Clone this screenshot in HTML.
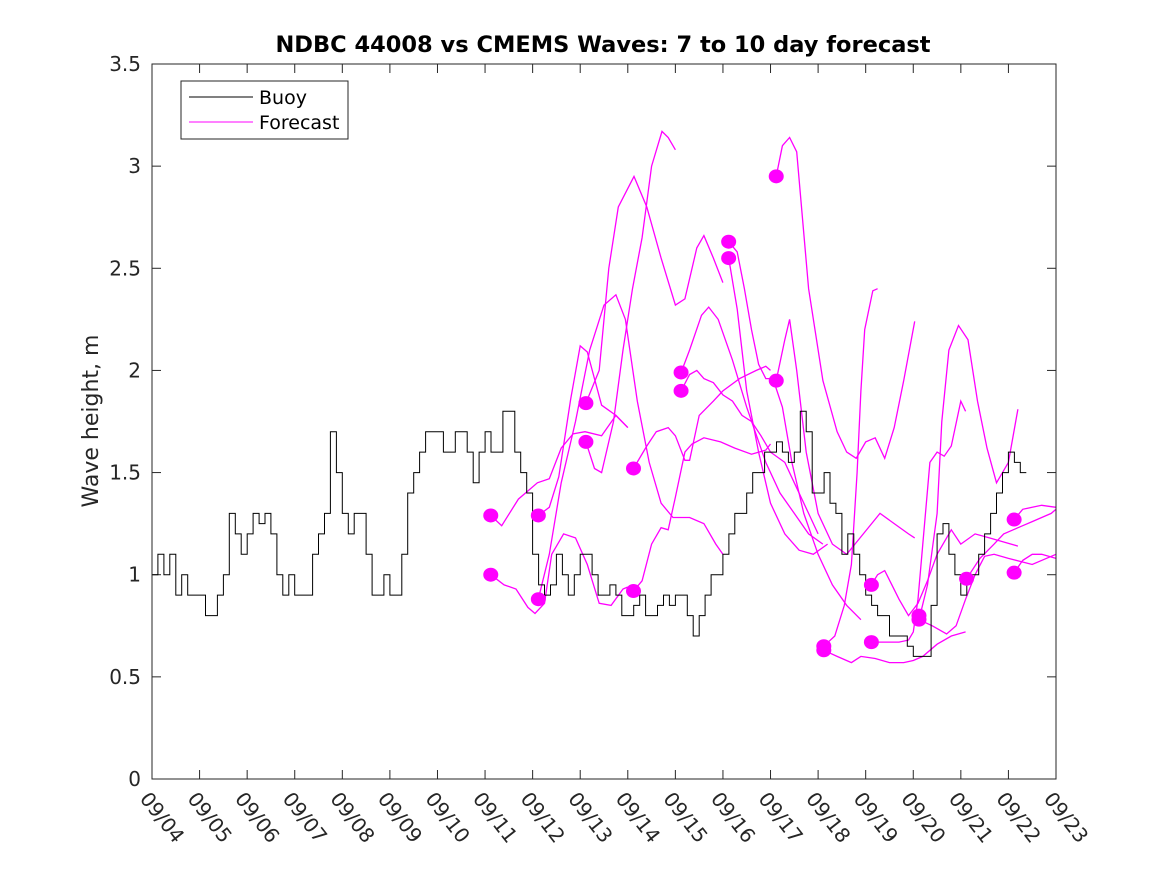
<!DOCTYPE html>
<html><head><meta charset="utf-8"><style>
html,body{margin:0;padding:0;background:#fff;}
svg{display:block;font-family:"DejaVu Sans","Liberation Sans",sans-serif;}
</style></head><body>
<svg id="chart" width="1167" height="875" viewBox="0 0 1167 875">
<rect x="0" y="0" width="1167" height="875" fill="#fff"/>
<text x="603" y="52" text-anchor="middle" font-size="22.5" font-weight="bold" fill="#000">NDBC 44008 vs CMEMS Waves: 7 to 10 day forecast</text>
<text transform="translate(98,421) rotate(-90)" text-anchor="middle" font-size="22" fill="#262626">Wave height, m</text>
<g id="plot"></g>
<rect x="152" y="64" width="904" height="715" fill="none" stroke="#262626" stroke-width="1"/>
<g>
<rect x="181" y="81" width="167" height="58" fill="#fff" stroke="#262626" stroke-width="1"/>
<line x1="189" y1="97" x2="253" y2="97" stroke="#000" stroke-width="1"/>
<text x="259" y="104" font-size="19" fill="#000">Buoy</text>
<line x1="189" y1="122" x2="253" y2="122" stroke="#ff00ff" stroke-width="1"/>
<text x="259" y="129" font-size="19" fill="#000">Forecast</text>
</g>
</svg>
<script>
const xLabels = ["09/04","09/05","09/06","09/07","09/08","09/09","09/10","09/11","09/12","09/13","09/14","09/15","09/16","09/17","09/18","09/19","09/20","09/21","09/22","09/23"];
const yTicks = [0,0.5,1,1.5,2,2.5,3,3.5];
const yTickLabels = ["0","0.5","1","1.5","2","2.5","3","3.5"];
// buoy: values every 3 hours starting 09/04 00:00
const buoyStep = 0.125;
const buoyValues = [
1.0,1.1,1.0,1.1,0.9,1.0,0.9,0.9,
0.9,0.8,0.8,0.9,1.0,1.3,1.2,1.1,
1.2,1.3,1.25,1.3,1.2,1.0,0.9,1.0,
0.9,0.9,0.9,1.1,1.2,1.3,1.7,1.5,
1.3,1.2,1.3,1.3,1.1,0.9,0.9,1.0,
0.9,0.9,1.1,1.4,1.5,1.6,1.7,1.7,
1.7,1.6,1.6,1.7,1.7,1.6,1.45,1.6,
1.7,1.6,1.6,1.8,1.8,1.6,1.5,1.4,
1.1,0.95,0.9,0.95,1.1,1.0,0.9,1.0,
1.1,1.1,1.0,0.9,0.9,0.95,0.9,0.8,
0.8,0.85,0.9,0.8,0.8,0.85,0.9,0.85,
0.9,0.9,0.8,0.7,0.8,0.9,1.0,1.0,
1.1,1.2,1.3,1.3,1.4,1.5,1.5,1.6,
1.6,1.65,1.6,1.55,1.6,1.8,1.7,1.4,
1.4,1.5,1.35,1.3,1.1,1.2,1.1,1.0,
0.9,0.85,0.8,0.8,0.7,0.7,0.7,0.65,
0.6,0.6,0.6,0.85,1.2,1.25,1.1,1.0,
0.9,1.0,1.0,1.1,1.2,1.3,1.4,1.5,
1.6,1.55,1.5];
// forecast start markers (day since 09/04, value)
const dotDays = [7.12,7.12,8.12,8.12,9.12,9.12,10.12,10.12,11.12,11.12,12.12,12.12,13.12,13.12,14.12,14.12,15.12,15.12,16.12,16.12,17.12,18.12,18.12];
const dotValues = [1.29,1.00,1.29,0.88,1.84,1.65,1.52,0.92,1.99,1.90,2.63,2.55,2.95,1.95,0.65,0.63,0.95,0.67,0.80,0.78,0.98,1.27,1.01];
// forecast curves: day positions and values
const fcDays = [
[7.12,7.35,7.7,8.1,8.35,8.6,8.85,9.1,9.45,9.75,10.0],
[7.12,7.4,7.65,7.9,8.05,8.25,8.4,8.65,8.9,9.15,9.4,9.65,9.9,10.0],
[8.12,8.35,8.55,8.8,9.0,9.15,9.45,9.75,10.0],
[8.12,8.35,8.6,8.9,9.2,9.5,9.75,9.95,10.2,10.45,10.7,10.95,11.3,11.6,11.85,12.0],
[9.12,9.4,9.6,9.8,10.13,10.4,10.7,11.0,11.2,11.45,11.6,11.8,12.0],
[9.12,9.3,9.45,9.7,9.9,10.1,10.3,10.5,10.72,10.85,11.0],
[10.12,10.4,10.6,10.85,11.0,11.2,11.3,11.5,11.8,12.0,12.35,12.7,12.9,13.0],
[10.12,10.3,10.5,10.7,10.85,11.0,11.2,11.35,11.6,11.95,12.25,12.6,12.9,13.0],
[11.12,11.3,11.55,11.7,11.9,12.2,12.5,12.9,13.2,13.5,13.8,14.1],
[11.12,11.3,11.45,11.6,11.8,12.0,12.2,12.4,12.6,12.8,13.0,13.3,13.5,13.8,14.0],
[12.12,12.3,12.45,12.6,12.75,12.9,13.05,13.25,13.45,13.7,14.0,14.3,14.6,14.9],
[12.12,12.3,12.5,12.75,13.0,13.3,13.6,13.9,14.2],
[13.12,13.25,13.4,13.55,13.8,14.1,14.4,14.6,14.8,15.0,15.2,15.4,15.6,15.8,16.03],
[13.12,13.3,13.4,13.55,13.75,14.0,14.3,14.6,14.95,15.3,15.6,15.9,16.03],
[14.12,14.35,14.55,14.7,14.82,14.9,14.98,15.05,15.15,15.25],
[14.12,14.4,14.7,14.9,15.2,15.5,15.8,16.0,16.2,16.5,16.8,17.1],
[15.12,15.25,15.4,15.55,15.7,15.9,16.1,16.3,16.5,16.8,17.0,17.3,17.6,17.9,18.2],
[15.12,15.4,15.7,15.9,16.0,16.1,16.2,16.35,16.5,16.65,16.8,17.0,17.1],
[16.12,16.4,16.7,16.9,17.1,17.3,17.5,17.7,18.0,18.5,19.0],
[16.12,16.3,16.5,16.6,16.75,16.95,17.15,17.35,17.55,17.75,18.0,18.2],
[17.12,17.4,17.7,17.9,18.1,18.3,18.5,18.7,18.9,19.0],
[18.12,18.3,18.5,18.7,19.0],
[18.12,18.3,18.5,18.7,19.0]
];
const fcValues = [
[1.29,1.24,1.37,1.45,1.47,1.62,1.69,1.70,1.68,1.78,1.72],
[1.0,0.95,0.93,0.84,0.81,0.86,1.1,1.2,1.18,1.05,0.86,0.85,0.93,0.94],
[1.29,1.33,1.48,1.86,2.12,2.09,1.83,1.78,1.72],
[0.88,1.1,1.45,1.75,2.1,2.32,2.37,2.25,1.85,1.55,1.35,1.28,1.28,1.25,1.15,1.1],
[1.84,2.0,2.5,2.8,2.95,2.8,2.55,2.32,2.35,2.6,2.66,2.55,2.43],
[1.65,1.52,1.5,1.75,2.1,2.4,2.65,3.0,3.17,3.14,3.08],
[1.52,1.63,1.70,1.72,1.68,1.56,1.56,1.78,1.85,1.9,1.96,2.0,2.02,2.0],
[0.92,0.97,1.15,1.23,1.22,1.38,1.6,1.64,1.67,1.65,1.62,1.59,1.61,1.64],
[1.99,2.1,2.27,2.31,2.25,2.05,1.82,1.55,1.4,1.3,1.2,1.15],
[1.9,1.98,2.0,1.96,1.94,1.88,1.85,1.78,1.75,1.68,1.6,1.55,1.45,1.3,1.2],
[2.63,2.58,2.4,2.2,2.03,1.96,1.96,1.82,1.55,1.3,1.1,0.95,0.85,0.78],
[2.55,2.3,1.9,1.6,1.35,1.2,1.12,1.1,1.15],
[2.95,3.1,3.14,3.07,2.4,1.95,1.7,1.6,1.57,1.65,1.67,1.57,1.72,1.95,2.24],
[1.95,2.15,2.25,2.0,1.6,1.3,1.15,1.1,1.2,1.3,1.25,1.2,1.18],
[0.65,0.7,0.85,1.05,1.5,1.9,2.2,2.28,2.39,2.4],
[0.63,0.6,0.57,0.6,0.59,0.57,0.57,0.58,0.6,0.66,0.7,0.72],
[0.95,1.0,1.02,0.95,0.88,0.8,0.86,0.97,1.1,1.22,1.15,1.2,1.18,1.16,1.14],
[0.67,0.67,0.67,0.68,0.72,0.88,1.15,1.55,1.6,1.58,1.63,1.85,1.8],
[0.78,0.75,0.71,0.75,0.88,1.0,1.09,1.1,1.08,1.05,1.1],
[0.78,0.95,1.3,1.75,2.1,2.22,2.15,1.85,1.62,1.45,1.55,1.81],
[0.98,1.08,1.15,1.2,1.22,1.24,1.26,1.28,1.3,1.32],
[1.27,1.32,1.33,1.34,1.33],
[1.01,1.07,1.1,1.1,1.08]
];

const NS = "http://www.w3.org/2000/svg";
const L = 152, R = 1056, T = 64, B = 779;
const nDays = 19, yMax = 3.5;
function xs(d){ return L + d * (R - L) / nDays; }
function ys(v){ return B - v * (B - T) / yMax; }
const plot = document.getElementById('plot');
function mk(tag, attrs){ const e = document.createElementNS(NS, tag); for (const k in attrs) e.setAttribute(k, attrs[k]); return e; }

yTicks.forEach((v, i) => {
  const y = ys(v);
  const t1 = mk('line', {x1:L, y1:y, x2:L+9, y2:y, stroke:'#262626'});
  
  
  plot.appendChild(t1);
  const t2 = mk('line', {x1:R, y1:y, x2:R-9, y2:y, stroke:'#262626'});
  
  
  plot.appendChild(t2);
  const tx = mk('text', {x:141, y:y+7, 'text-anchor':'end', 'font-size':'20', fill:'#262626'});
  tx.textContent = yTickLabels[i];
  
  
  plot.appendChild(tx);
});
xLabels.forEach((lab, i) => {
  const x = xs(i);
  const t1 = mk('line', {x1:x, y1:B, x2:x, y2:B-9, stroke:'#262626'});
  
  
  plot.appendChild(t1);
  const t2 = mk('line', {x1:x, y1:T, x2:x, y2:T+9, stroke:'#262626'});
  
  
  plot.appendChild(t2);
  const tx = mk('text', {transform:'translate(' + (x-13) + ',799) rotate(52)', 'font-size':'20', fill:'#262626'});
  tx.textContent = lab;
  
  
  plot.appendChild(tx);
});

fcDays.forEach((ds, k) => {
  const pts = ds.map((d, j) => xs(d).toFixed(1) + ',' + ys(fcValues[k][j]).toFixed(1)).join(' ');
  const pl = mk('polyline', {points:pts, fill:'none', stroke:'#ff00ff', 'stroke-width':'1.3'});
  
  
  plot.appendChild(pl);
});

let bp = [];
buoyValues.forEach((v, i) => {
  const x0 = xs(i * buoyStep), x1 = xs((i + 1) * buoyStep);
  bp.push(x0.toFixed(1) + ',' + ys(v).toFixed(1));
  bp.push(x1.toFixed(1) + ',' + ys(v).toFixed(1));
});
const buoy = mk('polyline', {points:bp.join(' '), fill:'none', stroke:'#000', 'stroke-width':'1'});


plot.appendChild(buoy);

dotDays.forEach((d, i) => {
  const c = mk('ellipse', {cx:xs(d), cy:ys(dotValues[i]), rx:7.5, ry:7, fill:'#ff00ff'});
  
  
  plot.appendChild(c);
});
</script>
</body></html>
